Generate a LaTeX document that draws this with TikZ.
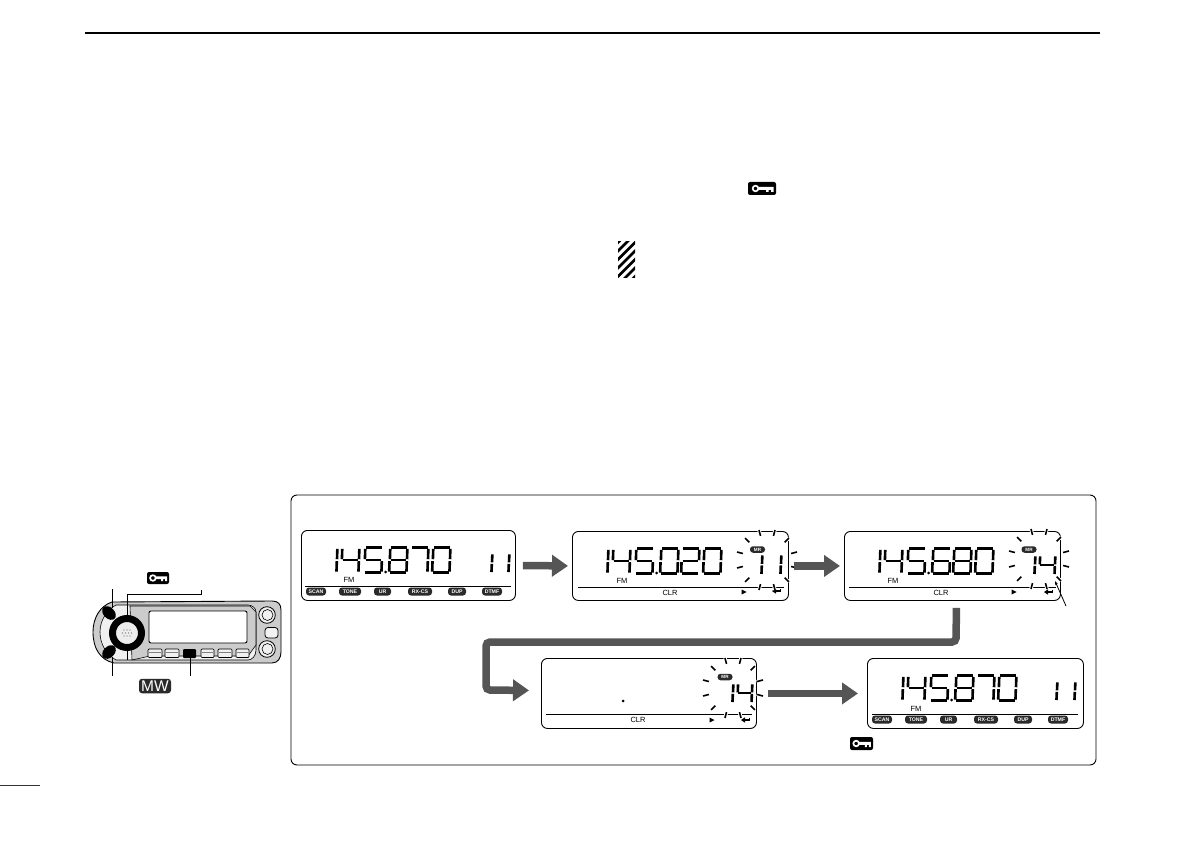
\documentclass[tikz,border=0pt]{standalone}
\usepackage{fontspec}
\setmainfont{Liberation Sans}
\usetikzlibrary{arrows.meta}
\definecolor{arrowgrey}{HTML}{555555}
\definecolor{pillblack}{HTML}{2A2A2A}
\definecolor{bodygrey}{HTML}{CCCCCC}
\tikzset{
  lcd/.style={draw=black,line width=0.9pt,rounded corners=6pt,fill=white,inner sep=0pt,anchor=north west},
  seg/.style={line width=2.6pt,line cap=butt,black},
  pill/.style={fill=pillblack,text=white,rounded corners=3pt,inner sep=0pt,minimum height=8pt,font=\bfseries\fontsize{5.2}{6}\selectfont},
  mrpill/.style={pill,minimum width=15pt,minimum height=6.5pt,font=\bfseries\fontsize{4.6}{5}\selectfont},
  small/.style={inner sep=0pt,font=\fontsize{7.5}{8}\selectfont},
  sepline/.style={line width=0.9pt,black},
  ray/.style={line width=1.6pt,black},
  rayhalo/.style={line width=3.5pt,white},
  blockarrow/.style={draw=arrowgrey,line width=7.5pt,-{Triangle[length=16pt,width=21pt,fill=arrowgrey]}},
  leader/.style={line width=0.9pt,black},
  iconbox/.style={fill=black,rounded corners=2pt},
}
\def\dOne{b,c}
\def\dZero{a,b,c,d,e,f}
\def\dTwo{a,b,g,e,d}
\def\dFour{f,g,b,c}
\def\dFive{a,f,g,c,d}
\def\dSix{a,f,g,c,d,e}
\def\dSeven{a,b,c}
\def\dEight{a,b,c,d,e,f,g}
\newcommand\lcddigit[5]{%
  \begin{scope}[shift={(#1,#2)},x=#3pt,y=-#4pt]
    \foreach \s in #5 {\csname segp\s\endcsname}
  \end{scope}}
\newcommand\segpa{\draw[seg] (0.12,0.03) -- (0.98,0.03);}
\newcommand\segpb{\draw[seg] (1.02,0.07) -- (1.0,0.47);}
\newcommand\segpc{\draw[seg] (0.99,0.54) -- (0.97,0.95);}
\newcommand\segpd{\draw[seg] (0.04,0.97) -- (0.92,0.97);}
\newcommand\segpe{\draw[seg] (0.03,0.54) -- (0.01,0.95);}
\newcommand\segpf{\draw[seg] (0.07,0.07) -- (0.05,0.47);}
\newcommand\segpg{\draw[seg] (0.09,0.50) -- (0.95,0.50);}
\newcommand\lcdfreq[5]{%
  \lcddigit{#1+18}{#2+17}{18}{26}{\dOne}
  \lcddigit{#1+40}{#2+17}{18}{26}{\dFour}
  \lcddigit{#1+63}{#2+17}{18}{26}{\dFive}
  \fill ({#1+84.5},{#2+42}) circle (1.5);
  \lcddigit{#1+88}{#2+17}{18}{26}{#3}
  \lcddigit{#1+109}{#2+17}{18}{26}{#4}
  \lcddigit{#1+131}{#2+17}{18}{26}{#5}}
\newcommand\burst[2]{%
  \foreach \a in {15,45,...,345} {
    \draw[rayhalo] ({#1+24.5*cos(\a)},{#2+24.5*sin(\a)}) -- ({#1+31*cos(\a)},{#2+31*sin(\a)});
  }
  \foreach \a in {15,45,...,345} {
    \draw[ray] ({#1+25*cos(\a)},{#2+25*sin(\a)}) -- ({#1+31*cos(\a)},{#2+31*sin(\a)});
  }}
\newcommand\keyicon[4]{%
  \begin{scope}[shift={(#1,#2)},x=#3pt/28,y=-#4pt/13]
    \fill[iconbox] (0,0) rectangle (28,13);
    \draw[white,line width=1.7pt] (7.5,6.5) circle[radius=2.8pt];
    \fill[white] (10.5,4.8) -- (25.5,4.8) -- (25.5,10) -- (23,10) -- (23,7.8) -- (20.5,7.8) -- (20.5,10) -- (18,10) -- (18,7.8) -- (10.5,7.8) -- cycle;
  \end{scope}}
\newcommand\retsym[2]{%
  \draw[line width=1.2pt] ({#1+3.5},{#2-2.5}) -- ({#1+3.5},{#2}) -- ({#1-2},{#2});
  \fill ({#1-5},{#2}) -- ({#1-1},{#2-2.7}) -- ({#1-1},{#2+2.7}) -- cycle;}
\newcommand\playsym[2]{\fill ({#1-2.5},{#2-2.5}) -- ({#1+2.5},{#2}) -- ({#1-2.5},{#2+2.5}) -- cycle;}
\newcommand\funcrow[3]{%
  \node[pill,minimum width=20pt] (#1scan) at ({#2+15},#3) {SCAN};
  \node[pill,minimum width=22pt] (#1tone) at ({#2+49},#3) {TONE};
  \node[pill,minimum width=17pt] (#1ur) at ({#2+81.5},#3) {UR};
  \node[pill,minimum width=24pt] (#1rxcs) at ({#2+119},#3) {RX-CS};
  \node[pill,minimum width=18pt] (#1dup) at ({#2+156},#3) {DUP};
  \node[pill,minimum width=20pt] (#1dtmf) at ({#2+191},#3) {DTMF};}
\begin{document}
\begin{tikzpicture}[x=1pt,y=-1pt]
\useasboundingbox (0,0) rectangle (1191,842);
\fill[white] (0,0) rectangle (1191,842);
\draw[line width=1.4pt] (85,33) -- (1100,33);
\draw[line width=1pt,black!80] (0,785) -- (40,785);
\keyicon{748}{182}{28}{13}
\begin{scope}
  \clip (618,242) rectangle (635,278);
  \foreach \k in {0,8.5,...,68} {
    \draw[line width=2.8pt] (610,{242+\k}) -- (645,{207+\k});
  }
\end{scope}
\draw[line width=0.9pt,rounded corners=6pt] (291,495) rectangle (1096,765);
\node[lcd,minimum width=214pt,minimum height=70pt] (d1) at (301,530) {};
\node[lcd,minimum width=216pt,minimum height=69pt] (d2) at (572,531) {};
\node[lcd,minimum width=216pt,minimum height=69pt] (d3) at (844,531) {};
\node[lcd,minimum width=215pt,minimum height=70pt] (d4) at (541,658) {};
\node[lcd,minimum width=216pt,minimum height=70pt] (d5) at (867,658) {};
% display 1
\lcdfreq{301}{530}{\dEight}{\dSeven}{\dZero}
\lcddigit{474}{553}{18}{20}{\dOne}
\lcddigit{491}{553}{18}{20}{\dOne}
\node[small] (fma) at (349,580) {FM};
\draw[sepline] (305,586) -- (511,586);
\funcrow{a}{301}{591.5}
% display 2
\lcdfreq{572}{531}{\dZero}{\dTwo}{\dZero}
\node[small] (fmb) at (622,581) {FM};
\draw[sepline] (578,587) -- (784,587);
\node[small] (clrb) at (670,593) {CLR};
\playsym{744}{592}
\retsym{777}{591}
\lcddigit{744}{554}{18}{21}{\dOne}
\lcddigit{763}{554}{18}{21}{\dOne}
\burst{767}{560}
\node[mrpill] (mrb) at (757.5,549.5) {MR};
% display 3
\lcdfreq{844}{531}{\dSix}{\dEight}{\dZero}
\node[small] (fmc) at (893,581) {FM};
\draw[sepline] (849,587) -- (1056,587);
\node[small] (clrc) at (941,593) {CLR};
\playsym{1014}{592}
\retsym{1049}{592}
\lcddigit{1017}{555}{18}{20}{\dOne}
\lcddigit{1039}{555}{16}{20}{\dFour}
\burst{1039}{559}
\node[mrpill] (mrc) at (1029,549.5) {MR};
% display 4
\fill (623,701) circle (1.5);
\draw[sepline] (546,714) -- (752,714);
\node[small] (clrd) at (638,720) {CLR};
\playsym{712}{720}
\retsym{746}{720}
\lcddigit{715}{683}{18}{20}{\dOne}
\lcddigit{737}{683}{15}{20}{\dFour}
\burst{733}{688}
\node[mrpill] (mrd) at (725,677) {MR};
% display 5
\lcdfreq{867}{658}{\dEight}{\dSeven}{\dZero}
\lcddigit{1039}{681}{18}{20}{\dOne}
\lcddigit{1057}{681}{18}{20}{\dOne}
\node[small] (fme) at (916,709) {FM};
\draw[sepline] (872,714) -- (1078,714);
\funcrow{e}{867}{719.5}
\keyicon{850}{737}{23}{13}
% block arrows
\draw[blockarrow,shorten <=7pt,shorten >=4pt] (d1.east) -- (d2.west);
\draw[blockarrow,shorten <=5pt,shorten >=4pt] (d2.east) -- (d3.west);
\coordinate (bendA) at (956,642);
\coordinate (bendB) at (486,642);
\coordinate (bendC) at (486,690);
\draw[blockarrow,rounded corners=4pt] ([xshift=4pt,yshift=-7pt]d3.south) -- (bendA) -- (bendB) -- (bendC) -- ([xshift=-12pt,yshift=3pt]d4.west);
\draw[blockarrow,shorten <=11pt,shorten >=9pt] (d4.east) -- (d5.west);
\coordinate (ptrend) at (1066,606);
\draw[line width=0.8pt,-{Stealth[length=4pt,width=3pt]}] (ptrend) -- (1055,581);
% radio front panel
\coordinate (btntop) at (109,613);
\coordinate (btnbot) at (109,652);
\coordinate (dial) at (127,633);
\coordinate (dialtop) at (127,616);
\coordinate (mwkey) at (190,653);
\coordinate (tagA) at (112,589);
\coordinate (tagB) at (201,590);
\coordinate (tagC) at (112,676);
\coordinate (tagD) at (190,676);
\draw[line width=0.9pt,fill=bodygrey] (112,602) .. controls (100,606) and (93,618) .. (93,632) .. controls (93,648) and (100,660) .. (114,663) -- (272,663) .. controls (278,663) and (281,658) .. (281,652) -- (281,610) .. controls (281,604) and (278,601) .. (272,601) -- cycle;
\draw[line width=0.6pt,fill=black!6] (116,605) .. controls (107,610) and (100,620) .. (100,632) .. controls (100,644) and (106,654) .. (116,660) -- (248,660) .. controls (252,660) and (256,656) .. (256,650) -- (256,612) .. controls (256,608) and (252,605) .. (248,605) -- cycle;
\draw[line width=0.6pt,fill=bodygrey] (130,606) -- (250,606) -- (256,612) -- (256,645) -- (248,656) -- (150,656) -- (132,660) -- cycle;
\draw[line width=0.9pt,fill=white,rounded corners=2pt] (149,611) rectangle (247,643);
\foreach \lft/\rgt in {148/162,165/179,201/214,218/232,236/249} {
  \draw[line width=0.7pt,fill=black!6,rounded corners=1pt] (\lft,649) rectangle (\rgt,657.5);
  \draw[line width=0.4pt,black!50] (\lft+1,652) -- (\rgt-1,652);
}
\fill[black,rounded corners=1pt] (183,649) rectangle (196,658);
\foreach \ky in {615,649} {
  \draw[line width=0.8pt,fill=black!6] (267,\ky) circle (8.3);
  \draw[line width=0.6pt] (267.5,\ky) circle (5.5);
}
\draw[line width=0.8pt,fill=black!5,rounded corners=3pt] (265,627.5) rectangle (278,638);
\draw[line width=0.5pt] (127,648) -- (127,660);
\draw[line width=7pt,fill=black!7] (dial) circle (14.5);
\foreach \dx/\dy in {-3/-4,0/-4,3/-4,-4.5/-1,-1.5/-1,1.5/-1,4.5/-1,-3/2,0/2,3/2} {
  \fill[black!60] (127+\dx,634+\dy) circle (0.6);
}
\fill[rotate around={-45:(btntop)}] (btntop) ellipse (8 and 5.5);
\fill[rotate around={45:(btnbot)}] (btnbot) ellipse (8 and 5.5);
\draw[leader] (tagA) -- (112,608);
\draw[leader] (tagB) -- (201,594) -- (127,594) -- (dialtop);
\draw[leader] (tagC) -- (112,657);
\draw[leader] (tagD) -- (mwkey);
\keyicon{147}{572}{22}{12}
\node[fill=pillblack,text=white,rounded corners=3pt,inner sep=0pt,minimum width=32pt,minimum height=14.5pt,font=\fontsize{15.5}{15.5}\selectfont] (mwtag) at (155,686) {MW};
\end{tikzpicture}
\end{document}
